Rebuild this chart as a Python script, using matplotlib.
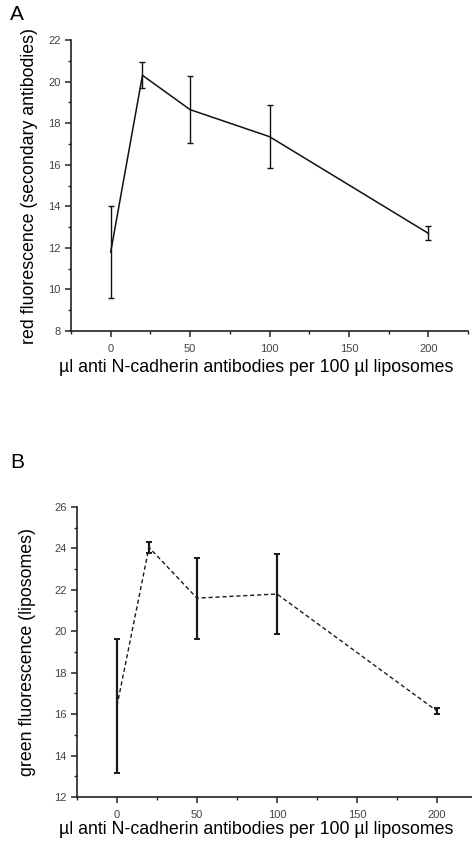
import numpy as np
import matplotlib.pyplot as plt
from matplotlib.ticker import MultipleLocator

plt.rcParams['font.family'] = ['Liberation Sans', 'DejaVu Sans']

# data
dose = [0, 20, 50, 100, 200]
red_mean = [11.8, 20.3, 18.65, 17.35, 12.7]
red_err = [2.2, 0.63, 1.6, 1.5, 0.33]
green_mean = [16.4, 24.05, 21.6, 21.8, 16.15]
green_err = [3.25, 0.25, 1.95, 1.92, 0.15]

xlab = 'µl anti N-cadherin antibodies per 100 µl liposomes'
W, H = 472, 844

fig = plt.figure(figsize=(W / 100, H / 100), dpi=100)


def style(ax, ylim, ymaj):
    ax.set_xlim(-25, 225)
    ax.set_ylim(*ylim)
    ax.spines['top'].set_visible(False)
    ax.spines['right'].set_visible(False)
    for s in ['left', 'bottom']:
        ax.spines[s].set_linewidth(1.2)
        ax.spines[s].set_color('#222222')
    ax.set_xticks([0, 50, 100, 150, 200])
    ax.xaxis.set_minor_locator(MultipleLocator(25))
    ax.yaxis.set_major_locator(MultipleLocator(ymaj))
    ax.yaxis.set_minor_locator(MultipleLocator(1))
    ax.tick_params(which='major', direction='out', length=4, width=1.1,
                   labelsize=8, labelcolor='#444444', color='#222222')
    ax.tick_params(axis='x', which='major', pad=5)
    ax.tick_params(which='minor', direction='out', length=2.5, width=1,
                   color='#222222')


# panel A
axA = fig.add_axes([71 / W, (H - 331) / H, 397 / W, 291 / H])
axA.errorbar(dose, red_mean, yerr=red_err, color='#111111', lw=1.1,
             elinewidth=1.0, capsize=2.5, capthick=1.0)
style(axA, (8, 22), 2)
axA.set_ylabel('red fluorescence (secondary antibodies)', fontsize=12.8, labelpad=7)
axA.set_xlabel(xlab, fontsize=12.8)
axA.xaxis.set_label_coords((256 - 71) / 397, -(368 - 331) / 291, transform=axA.transAxes)
axA.xaxis.label.set_va('center')

# panel B
axB = fig.add_axes([77 / W, (H - 797) / H, 400 / W, 290 / H])
axB.errorbar(dose, green_mean, yerr=green_err, color='#1a1a1a', lw=1.0,
             ls=(0, (3, 2)), elinewidth=1.6, capsize=2.5, capthick=1.4)
style(axB, (12, 26), 2)
axB.set_ylabel('green fluorescence (liposomes)', fontsize=12.8, labelpad=13)
axB.set_xlabel(xlab, fontsize=12.8)
axB.xaxis.set_label_coords((256 - 77) / 400, -(830 - 797) / 290, transform=axB.transAxes)
axB.xaxis.label.set_va('center')

fig.text(10 / W, 1 - 15 / H, 'A', fontsize=15, va='center', ha='left')
fig.text(10 / W, 1 - 463 / H, 'B', fontsize=15, va='center', ha='left')

fig.savefig('out.png', dpi=100)
